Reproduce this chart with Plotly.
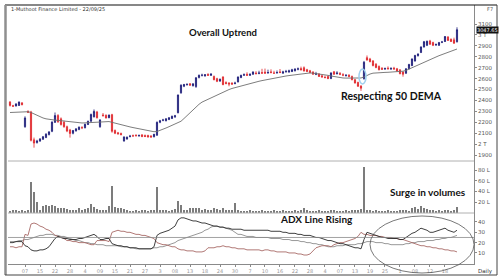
import plotly.graph_objects as go

idx = list(range(150))

opens = [2385,2352,2350,2355,2378,2160,2300,2295,2040,2015,
         2030,2045,2062,2088,2118,2200,2262,2232,2200,2160,
         2130,2100,2122,2135,2152,2150,2180,2210,2250,2295,
         2160,2268,2265,2242,2270,2125,2104,2098,2030,2048,
         2070,2078,2082,2076,2085,2080,2080,2075,2068,2082,
         2200,2218,2215,2226,2236,2250,2288,2470,2530,2545,
         2552,2535,2528,2610,2630,2625,2640,2630,2620,2600,
         2578,2615,2565,2560,2560,2555,2570,2610,2632,2640,
         2630,2640,2652,2648,2656,2660,2652,2662,2652,2652,
         2662,2650,2662,2660,2665,2672,2686,2692,2700,2682,
         2672,2660,2640,2642,2626,2612,2620,2602,2662,2645,
         2648,2636,2628,2632,2620,2590,2565,2532,2600,2792,
         2780,2762,2732,2712,2695,2688,2696,2688,2696,2690,
         2680,2660,2650,2690,2720,2762,2810,2840,2890,2905,
         2945,2930,2908,2905,2932,2940,2980,2960,2955,2938]
highs = [2395,2360,2375,2392,2385,2255,2310,2305,2060,2040,
         2055,2075,2100,2120,2210,2290,2275,2245,2215,2170,
         2140,2130,2148,2162,2165,2188,2215,2280,2318,2305,
         2228,2285,2272,2272,2278,2135,2112,2106,2072,2070,
         2085,2088,2090,2088,2092,2088,2086,2082,2095,2208,
         2222,2232,2238,2248,2262,2268,2455,2548,2552,2556,
         2560,2558,2612,2638,2645,2642,2648,2650,2628,2608,
         2600,2622,2575,2568,2566,2572,2620,2636,2648,2658,
         2648,2668,2668,2672,2690,2692,2682,2685,2672,2675,
         2688,2672,2680,2682,2690,2695,2702,2710,2712,2690,
         2680,2668,2662,2650,2635,2628,2628,2658,2670,2668,
         2660,2650,2642,2640,2628,2598,2572,2540,2762,2812,
         2790,2770,2742,2720,2705,2702,2712,2705,2708,2698,
         2688,2668,2695,2735,2785,2818,2832,2895,2945,2948,
         2955,2938,2922,2936,2945,2990,2990,2968,2975,3070]
lows = [2345,2340,2345,2350,2355,2150,2285,2025,1968,2005,
        2020,2040,2055,2080,2110,2195,2195,2170,2150,2110,
        2060,2090,2115,2128,2138,2145,2175,2205,2245,2235,
        2150,2255,2235,2238,2105,2092,2088,2080,2022,2040,
        2062,2068,2070,2068,2064,2065,2060,2060,2062,2078,
        2192,2210,2208,2220,2230,2240,2282,2462,2522,2535,
        2535,2528,2515,2602,2620,2618,2625,2624,2585,2568,
        2570,2540,2548,2530,2542,2548,2565,2604,2624,2625,
        2624,2635,2640,2640,2645,2645,2645,2650,2644,2645,
        2650,2645,2655,2655,2660,2665,2676,2675,2665,2660,
        2650,2636,2632,2615,2608,2602,2596,2595,2636,2638,
        2632,2622,2618,2612,2585,2555,2525,2488,2590,2765,
        2750,2712,2695,2675,2680,2680,2684,2680,2682,2664,
        2640,2618,2642,2685,2714,2755,2802,2834,2884,2898,
        2910,2898,2900,2900,2925,2935,2945,2935,2918,2930]
closes = [2355,2348,2368,2385,2362,2240,2292,2035,2010,2030,
          2048,2068,2092,2112,2202,2262,2205,2180,2160,2120,
          2098,2125,2140,2156,2150,2182,2210,2272,2300,2242,
          2222,2260,2240,2266,2118,2100,2095,2088,2066,2064,
          2074,2075,2078,2080,2070,2070,2066,2065,2090,2200,
          2215,2222,2232,2242,2255,2260,2450,2540,2546,2548,
          2540,2552,2608,2630,2632,2636,2630,2642,2590,2575,
          2595,2545,2555,2550,2550,2560,2615,2630,2636,2630,
          2640,2660,2645,2652,2650,2650,2656,2655,2650,2656,
          2656,2662,2666,2672,2682,2688,2690,2680,2670,2665,
          2655,2640,2644,2620,2615,2610,2600,2652,2640,2652,
          2640,2632,2630,2620,2590,2560,2530,2512,2750,2770,
          2755,2720,2702,2682,2686,2692,2690,2692,2688,2670,
          2645,2640,2690,2730,2780,2812,2825,2890,2938,2942,
          2915,2905,2912,2930,2936,2985,2950,2940,2925,3047.65]

dema50 = [2290,2292,2295,2297,2299,2298,2297,2290,2276,2262,
          2250,2240,2232,2226,2222,2220,2218,2215,2211,2206,
          2200,2197,2195,2194,2194,2195,2197,2200,2204,2206,
          2205,2206,2206,2207,2200,2192,2186,2180,2172,2165,
          2158,2152,2146,2140,2135,2130,2125,2120,2114,2116,
          2125,2135,2148,2160,2172,2182,2195,2210,2235,2262,
          2290,2318,2345,2365,2385,2398,2410,2425,2440,2455,
          2468,2480,2492,2500,2510,2518,2526,2534,2542,2550,
          2558,2564,2570,2576,2582,2588,2594,2600,2605,2610,
          2615,2620,2624,2628,2632,2636,2640,2644,2648,2651,
          2652,2650,2647,2643,2639,2635,2630,2624,2618,2612,
          2608,2606,2605,2605,2604,2604,2604,2606,2615,2630,
          2642,2650,2653,2655,2656,2657,2658,2659,2660,2661,
          2664,2668,2675,2688,2700,2712,2725,2738,2750,2762,
          2775,2787,2798,2810,2820,2830,2840,2850,2860,2871]

volume_lakh = [4,5,6,3,5,4,6,58,39,20,
               6,12,14,13,14,12,9,8,8,7,
               6,5,6,8,6,7,9,16,10,7,
               6,5,6,12,50,10,8,9,7,5,
               3,4,5,4,5,6,4,5,6,49,
               6,5,6,4,5,7,22,14,6,5,
               8,9,9,8,6,7,6,5,8,7,
               5,8,6,5,6,18,5,4,3,4,
               5,4,3,4,5,4,3,4,5,3,
               4,5,4,3,4,5,4,6,8,5,
               4,3,4,5,4,3,4,6,5,4,
               3,4,5,4,5,6,5,7,86,6,
               5,4,5,4,3,4,5,4,3,4,
               5,6,5,4,8,10,7,12,9,7,
               6,5,4,5,4,6,5,4,5,10]

plus_di = [20,20,21,21,21,17,16,13,12,12,
           13,13,14,16,20,24,26,25,24,24,
           23,23,23,24,24,25,26,27,28,26,
           23,23,24,24,19,18,17,17,16,16,
           15,15,15,14,14,14,14,14,16,27,
           29,30,31,32,34,36,42,44,44,43,
           42,41,41,40,39,39,38,37,36,36,
           35,35,34,34,33,33,33,33,32,32,
           32,32,32,32,32,32,32,31,31,31,
           31,30,30,29,29,29,28,28,27,27,
           27,26,25,25,24,23,22,22,21,20,
           19,19,18,17,16,15,15,14,23,30,
           29,28,27,26,25,25,24,24,24,24,
           23,23,25,27,29,30,32,34,33,32,
           30,30,31,32,33,34,32,31,30,32]
minus_di = [16,16,15,16,16,28,27,38,39,38,
            36,35,33,32,30,27,26,25,24,22,
            22,21,21,20,20,20,19,18,18,22,
            22,22,22,21,30,31,32,31,31,30,
            30,29,28,28,27,27,26,25,24,20,
            19,18,18,17,16,16,14,13,13,12,
            12,12,11,11,11,12,15,15,15,16,
            16,17,16,16,15,15,14,14,14,13,
            13,13,13,13,12,13,13,12,12,11,
            11,11,11,10,10,10,9,9,8,8,
            9,12,15,16,17,17,17,16,18,19,
            20,20,21,22,23,24,26,30,28,28,
            27,27,27,26,26,25,25,25,24,24,
            23,23,22,21,20,19,18,17,17,16,
            16,15,15,14,14,13,13,12,12,11]
adx = [21,21,21,22,22,23,23,24,25,26,
       27,27,28,28,28,27,27,26,26,25,
       24,23,22,22,21,20,20,19,19,18,
       18,18,17,17,17,17,17,16,16,16,
       15,15,14,14,14,14,14,14,15,15,
       16,16,17,18,19,20,22,23,24,25,
       26,27,28,29,30,32,33,35,36,36,
       35,35,34,33,32,30,28,28,27,26,
       26,26,25,25,25,25,25,24,24,24,
       24,23,23,23,22,22,22,21,21,20,
       20,19,19,18,18,17,16,16,16,17,
       17,17,18,18,18,18,19,19,20,21,
       21,21,20,20,20,19,19,18,18,18,
       18,18,19,19,20,20,21,21,21,22,
       22,22,23,23,24,24,25,25,26,27]

tick_pos = list(range(5, 150, 5))
tick_labels = ["07","15","22","28","4","09","15","21","27","3","08","13","18","24","30",
               "7","10","16","22","28","4","07","13","19","25","1","08","12","18"]

price_ticks = [1900,2000,2100,2200,2300,2400,2500,2600,2700,2800,2900,3000,3100]
price_tick_text = ["1900","2 T","2100","2200","2300","2400","2500","2600","2700","2800","2900","3 T","3100"]
vol_ticks = [20,40,60,80]
vol_tick_text = ["20 L","40 L","60 L","80 L"]
adx_ticks = [10,20,30,40]
adx_level = 25
last_price = closes[-1]

UP = "#1c1c78"
DOWN = "#e0262b"
AX = "#8a8a8a"
TXT = "#555555"

fig = go.Figure()
fig.add_trace(go.Candlestick(
    x=idx, open=opens, high=highs, low=lows, close=closes,
    increasing=dict(line=dict(color=UP, width=0.8), fillcolor=UP),
    decreasing=dict(line=dict(color=DOWN, width=0.8), fillcolor=DOWN),
    whiskerwidth=0, xaxis="x", yaxis="y", hoverinfo="skip"))
fig.add_trace(go.Scatter(x=idx, y=dema50, mode="lines",
                         line=dict(color="#6e6e6e", width=0.9),
                         xaxis="x", yaxis="y", hoverinfo="skip"))
fig.add_trace(go.Bar(x=idx, y=volume_lakh, width=0.28,
                     marker=dict(color="#7c7c7c", line=dict(width=0)),
                     xaxis="x2", yaxis="y2", hoverinfo="skip"))
fig.add_trace(go.Scatter(x=idx, y=adx, mode="lines",
                         line=dict(color="#8c8c8c", width=0.9),
                         xaxis="x3", yaxis="y3", hoverinfo="skip"))
fig.add_trace(go.Scatter(x=idx, y=minus_di, mode="lines",
                         line=dict(color="#a86a66", width=0.9),
                         xaxis="x3", yaxis="y3", hoverinfo="skip"))
fig.add_trace(go.Scatter(x=idx, y=plus_di, mode="lines",
                         line=dict(color="#2a2a2a", width=0.9),
                         xaxis="x3", yaxis="y3", hoverinfo="skip"))

xr = [-0.667, 154.67]
xcommon = dict(range=xr, showgrid=False, zeroline=False, fixedrange=True)

def paper_x(px):
    return (px - 8) / 466.0

def paper_y(py):
    return (264 - py) / 259.0

yax_common = dict(side="right", showgrid=False, zeroline=False, showline=True,
                  linecolor=AX, linewidth=1, ticks="outside", ticklen=2,
                  tickcolor=AX, tickfont=dict(size=5.5, color=TXT, family="DejaVu Sans"))

fig.update_layout(
    width=500, height=280,
    margin=dict(l=8, r=26, t=5, b=16),
    paper_bgcolor="white", plot_bgcolor="white",
    showlegend=False, bargap=0, boxgap=0.45,
    xaxis=dict(**xcommon, anchor="y", showticklabels=False, rangeslider=dict(visible=False)),
    xaxis2=dict(**xcommon, anchor="y2", showticklabels=False, matches="x"),
    xaxis3=dict(**xcommon, anchor="y3", matches="x", showline=True, linecolor=AX,
                tickvals=tick_pos, ticktext=tick_labels, ticks="outside", ticklen=2,
                tickcolor=AX, tickfont=dict(size=5, color="#999999", family="DejaVu Sans")),
    yaxis=dict(**yax_common, domain=[paper_y(161), 1], range=[1846, 3274],
               tickvals=price_ticks, ticktext=price_tick_text),
    yaxis2=dict(**yax_common, domain=[paper_y(213), paper_y(161)], range=[-0.5, 97],
                tickvals=vol_ticks, ticktext=vol_tick_text),
    yaxis3=dict(**yax_common, domain=[0, paper_y(213)], range=[-0.7, 48.7],
                tickvals=adx_ticks),
)

shapes = []
for py in (161, 213):
    shapes.append(dict(type="line", xref="paper", yref="paper", x0=0, x1=1,
                       y0=paper_y(py), y1=paper_y(py), line=dict(color="#b0b0b0", width=1)))
shapes.append(dict(type="line", xref="paper", yref="y3", x0=0, x1=1, y0=adx_level, y1=adx_level,
                   line=dict(color="#8c8c8c", width=0.8)))
shapes.append(dict(type="line", xref="paper", yref="paper", x0=paper_x(5), x1=paper_x(497),
                   y0=paper_y(5), y1=paper_y(5), line=dict(color="#111111", width=1.2)))
shapes.append(dict(type="line", xref="paper", yref="paper", x0=paper_x(5.5), x1=paper_x(5.5),
                   y0=paper_y(5), y1=paper_y(275), line=dict(color="#8f8f8f", width=2.5)))
shapes.append(dict(type="line", xref="paper", yref="paper", x0=paper_x(497), x1=paper_x(497),
                   y0=paper_y(5), y1=paper_y(275), line=dict(color="#444444", width=1)))
shapes.append(dict(type="line", xref="paper", yref="paper", x0=paper_x(5), x1=paper_x(497),
                   y0=paper_y(275), y1=paper_y(275), line=dict(color="#444444", width=1)))
shapes.append(dict(type="circle", xref="paper", yref="paper", x0=paper_x(370), x1=paper_x(474),
                   y0=paper_y(273), y1=paper_y(216), line=dict(color="#555555", width=0.8)))
shapes.append(dict(type="circle", xref="paper", yref="paper", x0=paper_x(359), x1=paper_x(366),
                   y0=paper_y(84), y1=paper_y(69), line=dict(color="#9fd0ee", width=1.5)))
fig.update_layout(shapes=shapes)

ann_font = "Lato"
annotations = [
    dict(text="1-Muthoot Finance Limited - 22/09/25", x=paper_x(9), y=paper_y(9),
         xanchor="left", yanchor="middle", font=dict(size=5, color="#333333", family="DejaVu Sans")),
    dict(text="F7", x=paper_x(495), y=paper_y(9), xanchor="right", yanchor="middle",
         font=dict(size=5, color="#555555", family="DejaVu Sans")),
    dict(text="Daily", x=paper_x(495), y=paper_y(271), xanchor="right", yanchor="middle",
         font=dict(size=5.5, color="#333333", family="DejaVu Sans")),
    dict(text="<b>Overall Uptrend</b>", x=paper_x(223), y=paper_y(32), xanchor="center", yanchor="middle",
         font=dict(size=9.5, color="#111111", family=ann_font)),
    dict(text="<b>Respecting 50 DEMA</b>", x=paper_x(391), y=paper_y(96), xanchor="center", yanchor="middle",
         font=dict(size=10.5, color="#111111", family=ann_font)),
    dict(text="<b>Surge in volumes</b>", x=paper_x(428), y=paper_y(192), xanchor="center", yanchor="middle",
         font=dict(size=10, color="#111111", family=ann_font)),
    dict(text="<b>ADX Line Rising</b>", x=paper_x(316), y=paper_y(219), xanchor="center", yanchor="middle",
         font=dict(size=10, color="#111111", family=ann_font)),
]
for a in annotations:
    a.update(xref="paper", yref="paper", showarrow=False)
annotations.append(dict(text=f"{last_price:.2f}", xref="paper", yref="y", x=paper_x(475.5), y=last_price,
                        xanchor="left", yanchor="middle", showarrow=False, bgcolor="#111111",
                        font=dict(size=5, color="white", family="DejaVu Sans"), borderpad=0))
fig.update_layout(annotations=annotations)

fig.write_html("out.html")
